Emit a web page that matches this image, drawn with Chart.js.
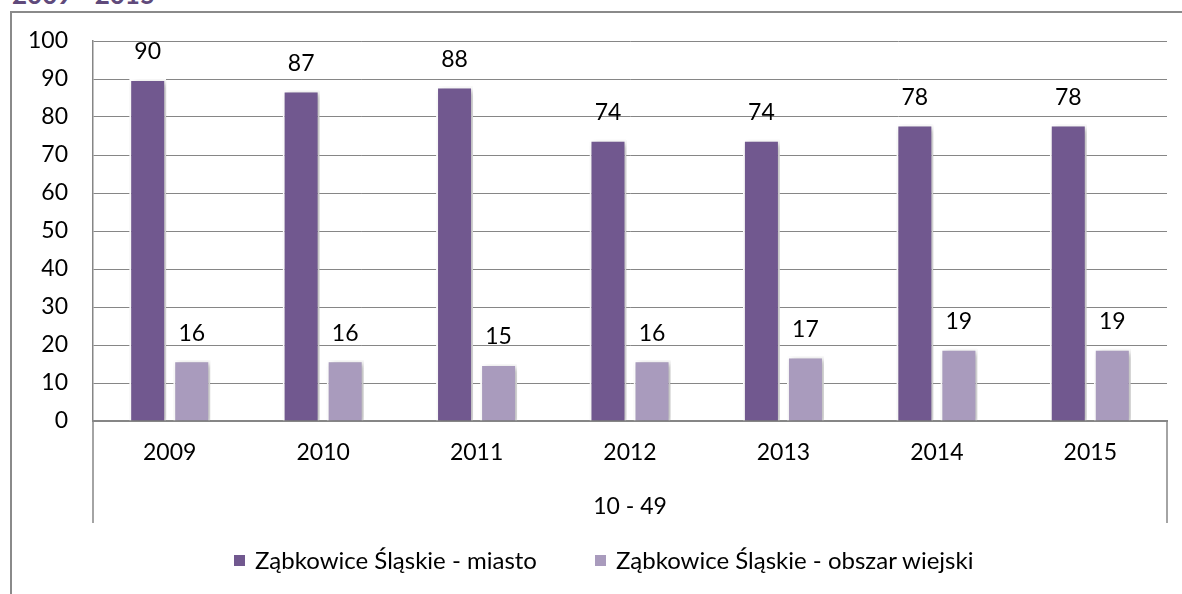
<!DOCTYPE html>
<html>
<head>
<meta charset="utf-8">
<script src="https://cdn.jsdelivr.net/npm/chart.js@4.4.0/dist/chart.umd.min.js"></script>
<style>
    html, body { margin: 0; padding: 0; background: #fff; overflow: hidden; }
    #wrap { position: relative; width: 1182px; height: 594px; }
    #frame { position: absolute; left: 10px; top: 11px; width: 1200px; height: 620px; border: 2px solid #8a8a8a; box-sizing: border-box; }
    #title { position: absolute; left: 12px; top: -19px; font: bold 26px Lato, sans-serif; color: #604a7b; line-height: 26px; }
    #chart { position: absolute; left: 0; top: 0; }
    #legend { position: absolute; left: 234px; top: 545px; display: flex; gap: 58px; font: 24px Lato, sans-serif; color: #000; line-height: 30px; }
    #legend .item { display: flex; align-items: center; white-space: nowrap; }
    #legend .box { width: 11px; height: 11px; margin-right: 10px; }
</style>
</head>
<body>
<div id="wrap">
    <div id="title">2009 - 2015</div>
    <div id="frame"></div>
    <canvas id="chart" width="1182" height="594"></canvas>
    <div id="legend"></div>
</div>
<script>
const years = ['2009', '2010', '2011', '2012', '2013', '2014', '2015'];
const groupLabels = ['10 - 49'];
const miasto = [90, 87, 88, 74, 74, 78, 78];
const obszarWiejski = [16, 16, 15, 16, 17, 19, 19];
const seriesNames = ['Ząbkowice Śląskie - miasto', 'Ząbkowice Śląskie - obszar wiejski'];
const seriesColors = ['#71588f', '#a99bbd'];

const FONT = 'Lato, "Open Sans", sans-serif';
const GRID = '#868686';

// soft shadow behind bars, like the office chart
const barShadow = {
    id: 'barShadow',
    beforeDatasetsDraw(chart) {
        const ctx = chart.ctx;
        ctx.save();
        ctx.shadowColor = 'rgba(0, 0, 0, 0.28)';
        ctx.shadowBlur = 6;
        ctx.shadowOffsetX = 3;
        ctx.shadowOffsetY = 2;
    },
    afterDatasetsDraw(chart) {
        chart.ctx.restore();
    }
};

// numbers above the bars
const valueLabels = {
    id: 'valueLabels',
    afterDatasetsDraw(chart) {
        const ctx = chart.ctx;
        ctx.save();
        ctx.font = '23px ' + FONT;
        ctx.fillStyle = '#000';
        ctx.textAlign = 'center';
        ctx.textBaseline = 'middle';
        chart.data.datasets.forEach((ds, i) => {
            chart.getDatasetMeta(i).data.forEach((bar, j) => {
                ctx.fillText(ds.data[j], bar.x, bar.y - 27);
            });
        });
        ctx.restore();
    }
};

// the box lines of the grouped category axis
const groupBox = {
    id: 'groupBox',
    afterDraw(chart) {
        const ctx = chart.ctx;
        const area = chart.chartArea;
        const bottom = chart.scales.x2.bottom;
        ctx.save();
        ctx.strokeStyle = GRID;
        ctx.lineWidth = 1.5;
        ctx.beginPath();
        ctx.moveTo(area.left, area.bottom);
        ctx.lineTo(area.left, bottom);
        ctx.moveTo(area.right, area.bottom);
        ctx.lineTo(area.right, bottom);
        ctx.stroke();
        ctx.restore();
    }
};

const chart = new Chart(document.getElementById('chart'), {
    type: 'bar',
    data: {
        labels: years,
        datasets: [{
            label: seriesNames[0],
            data: miasto,
            backgroundColor: seriesColors[0],
            borderColor: '#ffffff',
            borderWidth: 2,
            categoryPercentage: 0.574,
            barPercentage: 0.84
        }, {
            label: seriesNames[1],
            data: obszarWiejski,
            backgroundColor: seriesColors[1],
            borderColor: '#ffffff',
            borderWidth: 2,
            categoryPercentage: 0.574,
            barPercentage: 0.84
        }]
    },
    options: {
        responsive: false,
        animation: false,
        layout: {
            padding: { top: 41, right: 15, left: 0, bottom: 71 }
        },
        plugins: {
            tooltip: { enabled: false },
            legend: { display: false }
        },
        scales: {
            y: {
                min: 0,
                max: 100,
                ticks: {
                    stepSize: 10,
                    padding: 25,
                    color: '#000',
                    font: { family: FONT, size: 23 }
                },
                grid: { color: GRID, lineWidth: 1, drawTicks: false },
                border: { color: GRID, width: 1.5 },
                afterFit(scale) { scale.width = 93; }
            },
            x: {
                weight: 0,
                ticks: {
                    padding: 10,
                    color: '#000',
                    font: { family: FONT, size: 23 }
                },
                grid: { display: false },
                border: { color: GRID, width: 2 },
                afterFit(scale) { scale.height = 59; }
            },
            x2: {
                type: 'category',
                labels: groupLabels,
                position: 'bottom',
                offset: true,
                weight: 1,
                ticks: {
                    padding: 5,
                    color: '#000',
                    font: { family: FONT, size: 23 }
                },
                grid: { display: false },
                border: { display: false },
                afterFit(scale) { scale.height = 43; }
            }
        }
    },
    plugins: [barShadow, valueLabels, groupBox]
});

// legend under the chart, built from the datasets
const legendEl = document.getElementById('legend');
legendEl.innerHTML = chart.data.datasets.map(ds => `
    <div class="item"><span class="box" style="background:${ds.backgroundColor}"></span>${ds.label}</div>
`).join('');
</script>
</body>
</html>
